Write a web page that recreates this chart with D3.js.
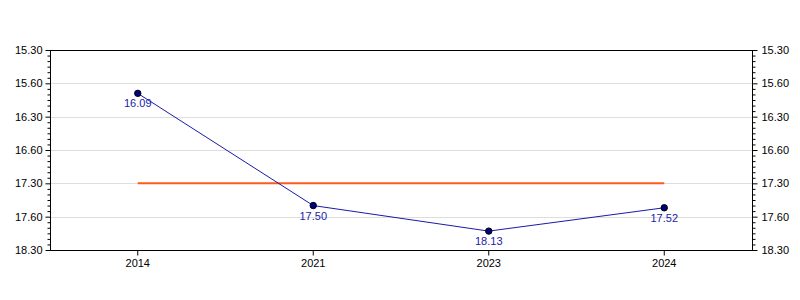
<!DOCTYPE html>
<html>
<head>
<meta charset="utf-8">
<script src="https://cdn.jsdelivr.net/npm/d3@7"></script>
<style>
  body { margin: 0; background: #fff; }
  svg text { font-family: "Liberation Sans", Arial, sans-serif; }
</style>
</head>
<body>
<svg class="chart" width="800" height="300"></svg>
<script>
// values are minutes.seconds (e.g. 16.09 = 16 min 9 s)
const years = ["2014", "2021", "2023", "2024"];
const values = [16.09, 17.50, 18.13, 17.52];
const refValue = 17.30;
const tickValues = [15.30, 15.60, 16.30, 16.60, 17.30, 17.60, 18.30];
const tickLabels = ["15.30", "15.60", "16.30", "16.60", "17.30", "17.60", "18.30"];

// min.sec -> decimal minutes; "15.60" is the chart's own label for 16:00
function toMin(v) {
    let m = Math.floor(v + 1e-9);
    let s = Math.round((v - m) * 100);
    return m + s / 60;
}

let svg = d3.select("svg.chart"),
    margin = {top: 50, bottom: 50, left: 50, right: 48},
    width = +svg.attr("width"),
    height = +svg.attr("height");

let x = d3.scaleBand()
    .domain(years)
    .range([margin.left, width - margin.right]);

let y = d3.scaleLinear()
    .domain([toMin(tickValues[0]), toMin(tickValues[tickValues.length - 1])])
    .range([margin.top, height - margin.bottom]);

let majors = tickValues.map(toMin);
let minors = [];
for (let i = 0; i < majors.length - 1; i++) {
    for (let k = 1; k < 6; k++) minors.push(majors[i] + k * (majors[i + 1] - majors[i]) / 6);
}

// grid
svg.append("g")
    .selectAll("line")
    .data(majors.slice(1, -1))
    .join("line")
    .attr("x1", margin.left)
    .attr("x2", width - margin.right)
    .attr("y1", d => Math.round(y(d)) + 0.5)
    .attr("y2", d => Math.round(y(d)) + 0.5)
    .style("stroke", "#dddddd");

// frame
svg.append("rect")
    .attr("x", margin.left + 0.5)
    .attr("y", margin.top + 0.5)
    .attr("width", width - margin.left - margin.right)
    .attr("height", height - margin.top - margin.bottom)
    .style("fill", "none")
    .style("stroke", "#000");

let fmt = (d, i) => tickLabels[i];

let yl = d3.axisLeft(y).tickValues(majors).tickFormat(fmt).tickSize(5).tickPadding(3);
let yr = d3.axisRight(y).tickValues(majors).tickFormat(fmt).tickSize(5).tickPadding(4);

function styleAxis(g) {
    g.select(".domain").remove();
    g.selectAll("text").style("font-size", "11px").style("fill", "#000");
    g.selectAll("line").style("stroke", "#000");
}

svg.append("g")
    .attr("transform", "translate(" + (margin.left + 0.5) + ",0)")
    .call(yl).call(styleAxis);
svg.append("g")
    .attr("transform", "translate(" + (width - margin.right + 0.5) + ",0)")
    .call(yr).call(styleAxis);

// minor ticks
svg.append("g")
    .attr("transform", "translate(" + (margin.left + 0.5) + ",0)")
    .call(d3.axisLeft(y).tickValues(minors).tickFormat("").tickSize(3))
    .call(styleAxis);
svg.append("g")
    .attr("transform", "translate(" + (width - margin.right + 0.5) + ",0)")
    .call(d3.axisRight(y).tickValues(minors).tickFormat("").tickSize(3))
    .call(styleAxis);

// x axis
svg.append("g")
    .attr("transform", "translate(0," + (height - margin.bottom + 0.5) + ")")
    .call(d3.axisBottom(x).tickSize(5).tickPadding(4))
    .call(styleAxis);

// reference line
svg.append("line")
    .attr("x1", x(years[0]) + x.bandwidth() / 2)
    .attr("x2", x(years[years.length - 1]) + x.bandwidth() / 2)
    .attr("y1", y(toMin(refValue)))
    .attr("y2", y(toMin(refValue)))
    .style("stroke", "#ff5a1e")
    .style("stroke-width", 2);

let pts = years.map((yr, i) => ({year: yr, v: values[i]}));

let line = d3.line()
    .x(d => x(d.year) + x.bandwidth() / 2)
    .y(d => y(toMin(d.v)));

svg.append("path")
    .datum(pts)
    .attr("d", line)
    .style("fill", "none")
    .style("stroke", "#1a1aaa")
    .style("stroke-width", 1);

svg.append("g")
    .selectAll("circle")
    .data(pts)
    .join("circle")
    .attr("cx", d => x(d.year) + x.bandwidth() / 2)
    .attr("cy", d => y(toMin(d.v)))
    .attr("r", 3.2)
    .style("fill", "#000080")
    .style("stroke", "#000");

svg.append("g")
    .selectAll("text")
    .data(pts)
    .join("text")
    .attr("x", d => x(d.year) + x.bandwidth() / 2)
    .attr("y", d => y(toMin(d.v)) + 14)
    .style("text-anchor", "middle")
    .style("font-size", "11px")
    .style("fill", "#1a1aaa")
    .text(d => d.v.toFixed(2));
</script>
</body>
</html>
